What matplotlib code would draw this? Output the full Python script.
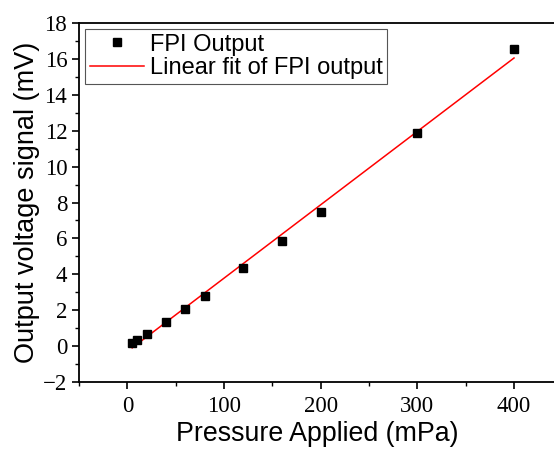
import matplotlib
matplotlib.use("Agg")
import matplotlib.pyplot as plt
from matplotlib.ticker import MultipleLocator

plt.rcParams['font.family'] = ['Liberation Serif', 'DejaVu Serif']

pressure = [5, 10, 20, 40, 60, 80, 120, 160, 200, 300, 400]
voltage = [0.2, 0.35, 0.65, 1.35, 2.05, 2.8, 4.35, 5.85, 7.45, 11.85, 16.55]
fit_x = [5, 400]
fit_y = [-0.1, 16.05]

fig = plt.figure(figsize=(5.54, 4.5), dpi=100)
ax = fig.add_axes([79/554, 1-382/450, 1-79/554+0.002, (382-23)/450])

ax.plot(pressure, voltage, 's', color='black', markersize=5.8, label='FPI Output', zorder=3)
ax.plot(fit_x, fit_y, '-', color='red', lw=1.1, label='Linear fit of FPI output', zorder=2)

ax.set_xlim(-50, 442.5)
ax.set_ylim(-2, 18)
ax.xaxis.set_major_locator(MultipleLocator(100))
ax.xaxis.set_minor_locator(MultipleLocator(50))
ax.yaxis.set_major_locator(MultipleLocator(2))
ax.yaxis.set_minor_locator(MultipleLocator(1))
ax.tick_params(which='major', direction='out', length=5, width=1.2, labelsize=16.5)
ax.tick_params(axis='x', which='major', pad=5)
ax.tick_params(which='minor', direction='out', length=3, width=1.0)
for s in ax.spines.values():
    s.set_linewidth(1.3)
ax.spines['right'].set_visible(False)

ax.set_xlabel('Pressure Applied (mPa)', family='Liberation Sans', fontsize=19.3, labelpad=3)
ax.set_ylabel('Output voltage signal (mV)', family='Liberation Sans', fontsize=19.5, labelpad=2)

leg = ax.legend(loc='upper left', prop={'family': 'Liberation Sans', 'size': 17},
                frameon=True, fancybox=False, edgecolor='#555555', framealpha=1,
                borderaxespad=0.25, handlelength=2.3, borderpad=0.2, labelspacing=0.05,
                handletextpad=0.25)
leg.get_frame().set_linewidth(0.8)

fig.savefig('out.png', dpi=100)
